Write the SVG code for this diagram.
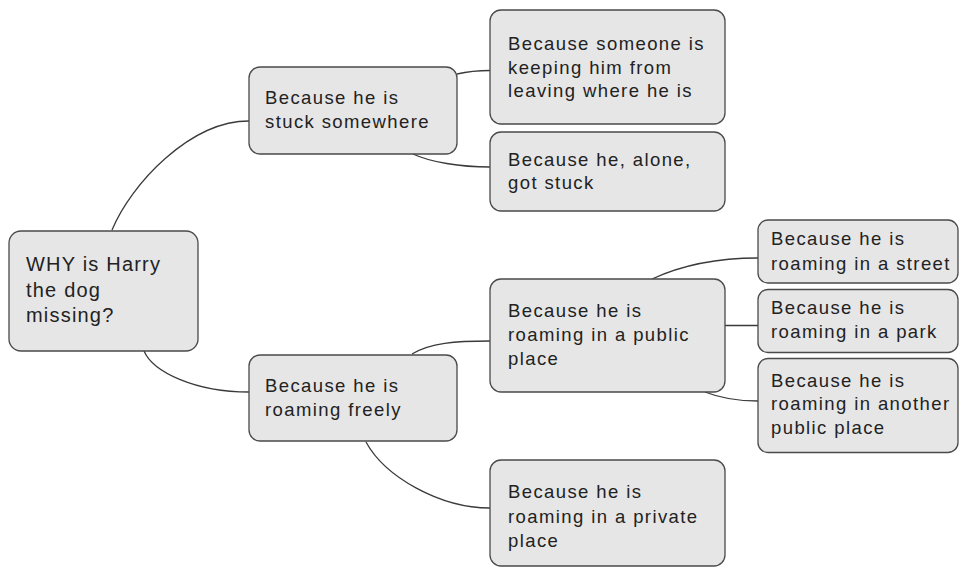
<svg xmlns="http://www.w3.org/2000/svg" width="960" height="568" viewBox="0 0 960 568">
<style>
.box{fill:#e6e6e6;stroke:#4a4a4a;stroke-width:1.3}
.t{font-family:"Liberation Sans",Arial,sans-serif;font-size:18.5px;letter-spacing:1.4px;fill:#222}
.root{font-size:20px;letter-spacing:1.2px}
.c{fill:none;stroke:#3a3a3a;stroke-width:1.3}
</style>
<rect width="960" height="568" fill="#fff"/>
<g id="connectors">
<path class="c" d="M112,230 C131,184 190,121 249,121"/>
<path class="c" d="M144,351 C153,372 195,392 249,392"/>
<path class="c" d="M457,74 C470,71 480,70.5 490,70.5"/>
<path class="c" d="M413,154 C430,162 460,167 490,167"/>
<path class="c" d="M412,354 C430,343 455,341 490,341"/>
<path class="c" d="M366,442 C385,477 440,508 490,508"/>
<path class="c" d="M652,279 C680,266 715,258 758,258"/>
<path class="c" d="M725,325.5 L758,325.5"/>
<path class="c" d="M705,392 C720,398 740,401 758,401"/>
</g>
<g id="root">
<rect class="box" x="9" y="231" width="189" height="120" rx="12"/>
<text class="t root" x="26"><tspan x="26" y="271">WHY is Harry</tspan><tspan x="26" y="297">the dog</tspan><tspan x="26" y="322">missing?</tspan></text>
</g>
<g id="stuck">
<rect class="box" x="249" y="67" width="208" height="87" rx="11"/>
<text class="t"><tspan x="265" y="104">Because he is</tspan><tspan x="265" y="128">stuck somewhere</tspan></text>
</g>
<g id="someone">
<rect class="box" x="490" y="10" width="235" height="114" rx="11"/>
<text class="t"><tspan x="508" y="50">Because someone is</tspan><tspan x="508" y="73.5">keeping him from</tspan><tspan x="508" y="97">leaving where he is</tspan></text>
</g>
<g id="alone">
<rect class="box" x="490" y="132" width="235" height="79" rx="11"/>
<text class="t"><tspan x="508" y="166">Because he, alone,</tspan><tspan x="508" y="189">got stuck</tspan></text>
</g>
<g id="freely">
<rect class="box" x="249" y="355" width="208" height="86" rx="11"/>
<text class="t"><tspan x="265" y="392">Because he is</tspan><tspan x="265" y="416">roaming freely</tspan></text>
</g>
<g id="public">
<rect class="box" x="490" y="279" width="235" height="113" rx="11"/>
<text class="t"><tspan x="508" y="317">Because he is</tspan><tspan x="508" y="341">roaming in a public</tspan><tspan x="508" y="365">place</tspan></text>
</g>
<g id="private">
<rect class="box" x="490" y="460" width="235" height="106" rx="11"/>
<text class="t"><tspan x="508" y="498">Because he is</tspan><tspan x="508" y="522.5">roaming in a private</tspan><tspan x="508" y="546.5">place</tspan></text>
</g>
<g id="street">
<rect class="box" x="758" y="220" width="200" height="63" rx="10"/>
<text class="t"><tspan x="771" y="245">Because he is</tspan><tspan x="771" y="270">roaming in a street</tspan></text>
</g>
<g id="park">
<rect class="box" x="758" y="289.5" width="200" height="63" rx="10"/>
<text class="t"><tspan x="771" y="314">Because he is</tspan><tspan x="771" y="338">roaming in a park</tspan></text>
</g>
<g id="another">
<rect class="box" x="758" y="358.5" width="200" height="94" rx="10"/>
<text class="t"><tspan x="771" y="387">Because he is</tspan><tspan x="771" y="410">roaming in another</tspan><tspan x="771" y="434">public place</tspan></text>
</g>
</svg>
